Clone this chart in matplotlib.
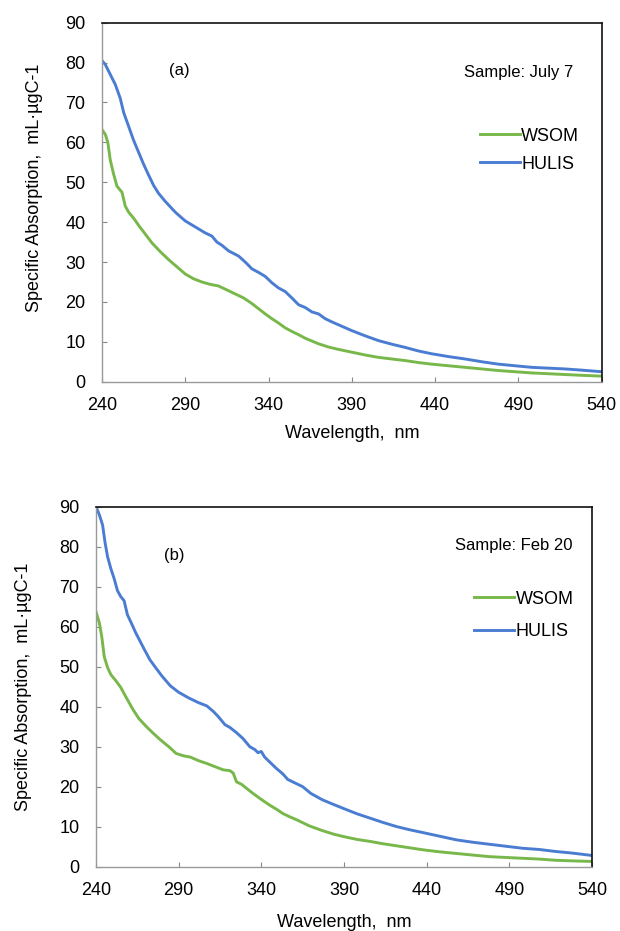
import numpy as np
import matplotlib
matplotlib.use("Agg")
import matplotlib.pyplot as plt

plt.rcParams['font.family'] = ['Liberation Sans', 'DejaVu Sans']

# panel (a) - Sample: July 7
wl_a_hulis = [240, 242, 245, 248, 251, 253, 256, 259, 262, 265, 268, 271, 274, 278, 284, 290,
              296, 302, 306, 309, 312, 316, 322, 326, 330, 334, 338, 342, 346, 350, 354, 358,
              362, 366, 370, 374, 378, 384, 390, 398, 406, 414, 422, 430, 438, 448, 458, 468,
              478, 488, 498, 508, 518, 528, 540]
hulis_a = [80.5, 79.5, 77, 74.5, 71, 67.5, 64, 60.5, 57.5, 54.5, 51.8, 49.2, 47.2, 45.2, 42.5, 40.3,
           38.8, 37.3, 36.5, 35, 34.2, 32.8, 31.5, 30, 28.3, 27.4, 26.4, 24.8, 23.5, 22.6, 21, 19.3,
           18.6, 17.5, 17, 15.8, 15, 13.9, 12.8, 11.5, 10.3, 9.4, 8.6, 7.7, 7.0, 6.3, 5.7, 5.0,
           4.4, 4.0, 3.6, 3.4, 3.2, 2.9, 2.5]
wl_a_wsom = [240, 242, 243.5, 245, 247, 249, 252, 254, 256, 259, 262, 266, 270, 275, 280, 285,
             290, 295, 300, 305, 310, 315, 320, 325, 330, 334, 338, 342, 346, 350, 354, 358,
             362, 366, 370, 376, 382, 390, 398, 406, 414, 422, 430, 438, 448, 458, 468, 478,
             488, 498, 508, 518, 528, 540]
wsom_a = [63.2, 62, 60, 55.5, 52, 49, 47.5, 44, 42.5, 41, 39.2, 37, 34.8, 32.6, 30.6, 28.8,
          27, 25.8, 25, 24.4, 24, 23, 22, 21, 19.6, 18.3, 17, 15.8, 14.7, 13.5, 12.6, 11.8,
          10.9, 10.2, 9.5, 8.7, 8.1, 7.4, 6.7, 6.1, 5.7, 5.3, 4.8, 4.4, 4.0, 3.6, 3.2, 2.8,
          2.5, 2.2, 2.0, 1.8, 1.6, 1.4]

# panel (b) - Sample: Feb 20
wl_b_hulis = [240, 242, 244, 245.5, 247, 249, 251, 253, 255, 257, 259, 261.5, 264, 266.5, 269, 272.5,
              276, 280, 285, 290, 296, 302, 307, 311, 314, 318, 321, 325, 329, 333, 336, 338,
              340, 342, 345, 349, 353, 356, 360, 365, 370, 377, 384, 390, 398, 406, 414, 422,
              430, 438, 448, 458, 468, 478, 488, 498, 508, 518, 528, 540]
hulis_b = [90, 88, 85.4, 81, 77.5, 74.5, 72, 69, 67.5, 66.5, 63, 60.8, 58.5, 56.5, 54.5, 51.8,
           49.8, 47.6, 45.2, 43.6, 42.2, 41, 40.2, 38.8, 37.5, 35.5, 34.8, 33.5, 32, 30, 29.3, 28.5,
           28.8, 27.4, 26.2, 24.6, 23.2, 21.8, 21, 20, 18.3, 16.7, 15.5, 14.5, 13.2, 12.1, 11.0, 10.0,
           9.2, 8.5, 7.6, 6.7, 6.1, 5.6, 5.1, 4.6, 4.3, 3.8, 3.4, 2.8]
wl_b_wsom = [240, 242, 243.5, 245, 247, 249, 252, 255, 258, 262.5, 266, 270.5, 275, 279, 284, 288.5,
             293, 297, 302, 307, 312, 317, 321, 323, 325, 328, 331, 335, 340, 345, 349, 353,
             357, 362, 369, 377, 384, 390, 398, 406, 414, 422, 430, 438, 448, 458, 468, 478,
             488, 498, 508, 518, 528, 540]
wsom_b = [63.7, 61, 57.5, 52.5, 49.8, 48, 46.5, 44.8, 42.5, 39.2, 37, 35, 33.2, 31.7, 30, 28.3,
          27.7, 27.4, 26.5, 25.8, 25, 24.2, 24, 23.4, 21.2, 20.6, 19.6, 18.3, 16.8, 15.4, 14.4, 13.3,
          12.5, 11.6, 10.2, 9.0, 8.1, 7.5, 6.8, 6.3, 5.7, 5.2, 4.7, 4.2, 3.7, 3.3, 2.9, 2.5,
          2.3, 2.1, 1.9, 1.6, 1.45, 1.3]

xticks = [240, 290, 340, 390, 440, 490, 540]
yticks = [0, 10, 20, 30, 40, 50, 60, 70, 80, 90]

green = '#78B84A'
blue = '#4A7DD2'

fig = plt.figure(figsize=(6.2, 9.31), dpi=100)
ax_a = fig.add_axes([0.1645, 0.590, 0.806, 0.3856])
ax_b = fig.add_axes([0.1548, 0.0691, 0.80, 0.3867])

# axes, wsom, hulis, tag, sample text, legend anchor, spacing, label positions
panels = [
    (ax_a, wl_a_wsom, wsom_a, wl_a_hulis, hulis_a, '(a)', (286.7, 78.1), 'Sample: July 7', (523, 77.6),
     (0.756, 0.708), 0.62, 0.54, -0.118, -0.121),
    (ax_b, wl_b_wsom, wsom_b, wl_b_hulis, hulis_b, '(b)', (287.2, 77.9), 'Sample: Feb 20', (528.5, 80.2),
     (0.762, 0.767), 0.85, 0.50, -0.129, -0.131),
]

for ax, xw, yw, xh, yh, tag, tag_xy, sample, sample_xy, leg_xy, lsp, ylab_y, ylab_x, xlab_y in panels:
    ax.plot(xw, yw, color=green, lw=2.1, label='WSOM')
    ax.plot(xh, yh, color=blue, lw=2.1, label='HULIS')
    ax.set_xlim(240, 540)
    ax.set_ylim(0, 90)
    ax.set_xticks(xticks)
    ax.set_yticks(yticks)
    ax.tick_params(direction='in', length=3.5, width=0.8, color='#888888',
                   labelsize=13, pad=11)
    ax.tick_params(axis='y', pad=12)
    for s in ['left', 'bottom']:
        ax.spines[s].set_color('#999999')
        ax.spines[s].set_linewidth(1.0)
    for s in ['top', 'right']:
        ax.spines[s].set_color('#111111')
        ax.spines[s].set_linewidth(1.2)
    ax.text(tag_xy[0], tag_xy[1], tag, fontsize=12, ha='center', va='center')
    ax.text(sample_xy[0], sample_xy[1], sample, fontsize=12, ha='right', va='center')
    ax.legend(loc='upper left', bbox_to_anchor=leg_xy, frameon=False, fontsize=13,
              handlelength=2.2, handletextpad=0.1, borderpad=0, borderaxespad=0,
              labelspacing=lsp)
    ax.set_xlabel('Wavelength,  nm', fontsize=13)
    ax.set_ylabel('Specific Absorption,  mL\u00b7\u00b5gC-1', fontsize=13)
    ax.xaxis.set_label_coords(0.5, xlab_y)
    ax.yaxis.set_label_coords(ylab_x, ylab_y)

fig.savefig('out.png', dpi=100)
